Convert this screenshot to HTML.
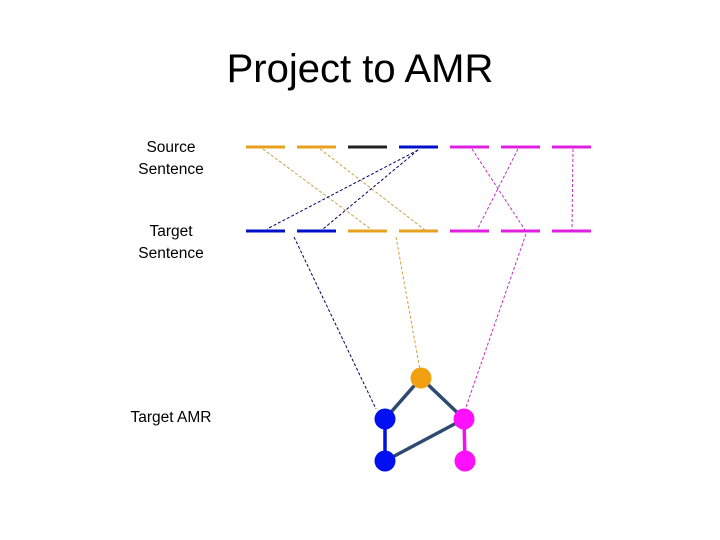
<!DOCTYPE html>
<html><head><style>
body{margin:0;background:#fff;}
svg{display:block;font-family:"Liberation Sans",Calibri,sans-serif;}
</style></head><body>
<svg width="720" height="540" viewBox="0 0 720 540">
<text x="360" y="82" font-size="40" text-anchor="middle" fill="#000">Project to AMR</text>
<g font-size="15.5" text-anchor="middle" fill="#000">
<text x="171" y="152">Source</text><text x="171" y="174">Sentence</text>
<text x="171" y="236">Target</text><text x="171" y="258">Sentence</text>
<text x="171" y="422">Target AMR</text>
</g>
<g stroke-width="3">
<line x1="246" y1="147" x2="285" y2="147" stroke="#e8a020"/>
<line x1="297" y1="147" x2="336" y2="147" stroke="#e8a020"/>
<line x1="348" y1="147" x2="387" y2="147" stroke="#222"/>
<line x1="399" y1="147" x2="438" y2="147" stroke="#0010c8"/>
<line x1="450" y1="147" x2="489" y2="147" stroke="#e020e0"/>
<line x1="501" y1="147" x2="540" y2="147" stroke="#e020e0"/>
<line x1="552" y1="147" x2="591" y2="147" stroke="#e020e0"/>
<line x1="246" y1="231" x2="285" y2="231" stroke="#0010c8"/>
<line x1="297" y1="231" x2="336" y2="231" stroke="#0010c8"/>
<line x1="348" y1="231" x2="387" y2="231" stroke="#e8a020"/>
<line x1="399" y1="231" x2="438" y2="231" stroke="#e8a020"/>
<line x1="450" y1="231" x2="489" y2="231" stroke="#e020e0"/>
<line x1="501" y1="231" x2="540" y2="231" stroke="#e020e0"/>
<line x1="552" y1="231" x2="591" y2="231" stroke="#e020e0"/>
</g>
<g stroke-width="1" stroke-dasharray="3,2" fill="none">
<line x1="263" y1="149" x2="372" y2="230" stroke="#d0a040"/>
<line x1="320" y1="149" x2="425" y2="230" stroke="#d0a040"/>
<line x1="418" y1="150" x2="267" y2="229" stroke="#000060"/>
<line x1="418" y1="150" x2="323" y2="229" stroke="#000060"/>
<line x1="472" y1="149" x2="525" y2="230" stroke="#c030c0"/>
<line x1="518" y1="149" x2="477" y2="230" stroke="#c030c0"/>
<line x1="573" y1="149" x2="572" y2="230" stroke="#c030c0"/>
<line x1="294" y1="237" x2="376" y2="409" stroke="#000060"/>
<line x1="396" y1="237" x2="420" y2="370" stroke="#d0a040"/>
<line x1="526" y1="234" x2="465" y2="410" stroke="#c030c0"/>
</g>
<g stroke="#2e4a6e" stroke-width="3.5">
<line x1="421" y1="378" x2="385" y2="419"/>
<line x1="421" y1="378" x2="464" y2="419"/>
<line x1="464" y1="419" x2="385" y2="461"/>
</g>
<line x1="385" y1="419" x2="385" y2="461" stroke="#0010e0" stroke-width="3.5"/>
<line x1="464" y1="419" x2="465" y2="461" stroke="#f010f0" stroke-width="3.5"/>
<circle cx="421" cy="378" r="10.5" fill="#f0a010"/>
<circle cx="385" cy="419" r="10.5" fill="#0010f0"/>
<circle cx="385" cy="461" r="10.5" fill="#0010f0"/>
<circle cx="464" cy="419" r="10.5" fill="#ff10ff"/>
<circle cx="465" cy="461" r="10.5" fill="#ff10ff"/>
</svg>
</body></html>
